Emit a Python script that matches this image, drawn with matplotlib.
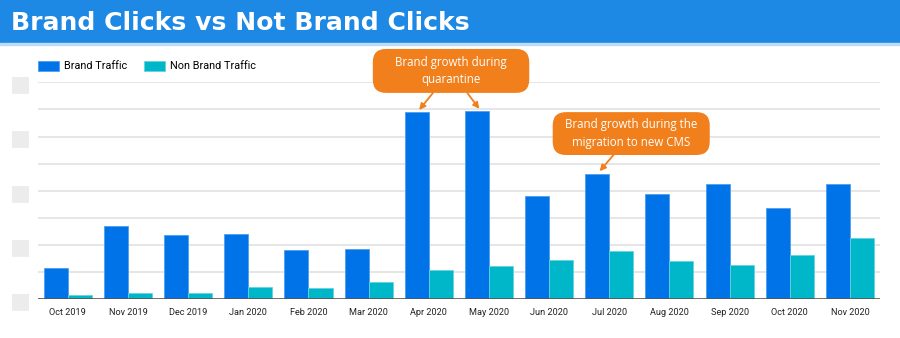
import numpy as np
import matplotlib
matplotlib.use("Agg")
import matplotlib.pyplot as plt
from matplotlib.patches import Rectangle, FancyBboxPatch

months = ["Oct 2019", "Nov 2019", "Dec 2019", "Jan 2020", "Feb 2020", "Mar 2020", "Apr 2020",
          "May 2020", "Jun 2020", "Jul 2020", "Aug 2020", "Sep 2020", "Oct 2020", "Nov 2020"]
brand = [1.16, 2.69, 2.36, 2.42, 1.80, 1.86, 6.89, 6.93, 3.81, 4.63, 3.89, 4.25, 3.38, 4.25]
non_brand = [0.15, 0.25, 0.25, 0.47, 0.42, 0.62, 1.09, 1.21, 1.45, 1.78, 1.41, 1.27, 1.63, 2.25]
yticks = [0, 2, 4, 6, 8]

BLUE = "#0073e8"
TEAL = "#00b7c9"
ORANGE = "#f07f1c"
HEADER = "#1e88e5"

plt.rcParams["font.family"] = ["Roboto", "DejaVu Sans"]

fig = plt.figure(figsize=(9, 3.38), dpi=100)
W, H = 900, 338

# header band
fig.patches.append(Rectangle((0, 1 - 43 / H), 1, 43 / H, transform=fig.transFigure,
                             color=HEADER, zorder=0))
fig.patches.append(Rectangle((0, 1 - 45 / H), 1, 2 / H, transform=fig.transFigure,
                             color="#bcdcf7", zorder=0))
fig.text(11 / W, 1 - 23 / H, "Brand Clicks vs Not Brand Clicks", color="white",
         fontsize=18.1, fontweight="bold", family="DejaVu Sans", va="center", ha="left")

left, right = 37.7, 880
base, top = 299.3, 82.3
ax = fig.add_axes([left / W, (H - base) / H, (right - left) / W, (base - top) / H])

x = np.arange(len(months))
bw = 0.4
ax.bar(x - bw / 2, brand, bw, color=BLUE, edgecolor="#4d9ef0", linewidth=0.6,
       label="Brand Traffic", zorder=3)
ax.bar(x + bw / 2, non_brand, bw, color=TEAL, edgecolor="#66d3de", linewidth=0.6,
       label="Non Brand Traffic", zorder=3)

ax.set_xlim(-0.5, len(months) - 0.5)
ax.set_ylim(0, 8)
for yv in np.arange(1, 9):
    ax.axhline(yv, color="#e4e4e4", linewidth=1.3, zorder=1)
ax.axhline(0, color="#555555", linewidth=1.2, zorder=4)
ax.set_yticks(yticks)
ax.set_yticklabels(["\u25a0"] * len(yticks), fontsize=16, color="#ececec",
                   family="DejaVu Sans")
ax.set_xticks(x)
ax.set_xticklabels(months, fontsize=6.6, color="#222222")
ax.tick_params(axis="both", length=0)
ax.tick_params(axis="x", pad=6)
ax.tick_params(axis="y", pad=5)
for s in ax.spines.values():
    s.set_visible(False)

leg = ax.legend(loc="lower left", bbox_to_anchor=(-0.009, 1.015), ncol=2, frameon=False,
                fontsize=7.8, handlelength=2.0, handleheight=1.0, columnspacing=1.5,
                handletextpad=0.45, borderaxespad=0.3)

# callouts
asp = 60 / 27.125


def callout(x0, x1, y0, y1, text):
    box = FancyBboxPatch((x0, y0), x1 - x0, y1 - y0,
                         boxstyle="round,pad=0,rounding_size=0.22",
                         mutation_aspect=asp, facecolor=ORANGE, edgecolor="none",
                         clip_on=False, zorder=6)
    ax.add_patch(box)
    ax.text((x0 + x1) / 2, (y0 + y1) / 2, text, ha="center", va="center", color="white",
            fontsize=8.3, family=["Open Sans", "DejaVu Sans"], linespacing=1.45,
            zorder=7, clip_on=False)


def arrow(tail, i, value):
    ax.annotate("", xy=(i - bw / 2 + 0.04, value + 0.09), xytext=tail,
                arrowprops=dict(arrowstyle="-|>", color=ORANGE, lw=1.3,
                                mutation_scale=9, shrinkA=0, shrinkB=0),
                annotation_clip=False, zorder=6)


callout(5.07, 7.67, 7.61, 9.23, "Brand growth during\nquarantine")
arrow((6.07, 7.61), 6, brand[6])
arrow((6.64, 7.61), 7, brand[7])

callout(8.06, 10.67, 5.32, 6.90, "Brand growth during the\nmigration to new CMS")
arrow((9.07, 5.32), 9, brand[9])

fig.savefig("out.png", dpi=100)
